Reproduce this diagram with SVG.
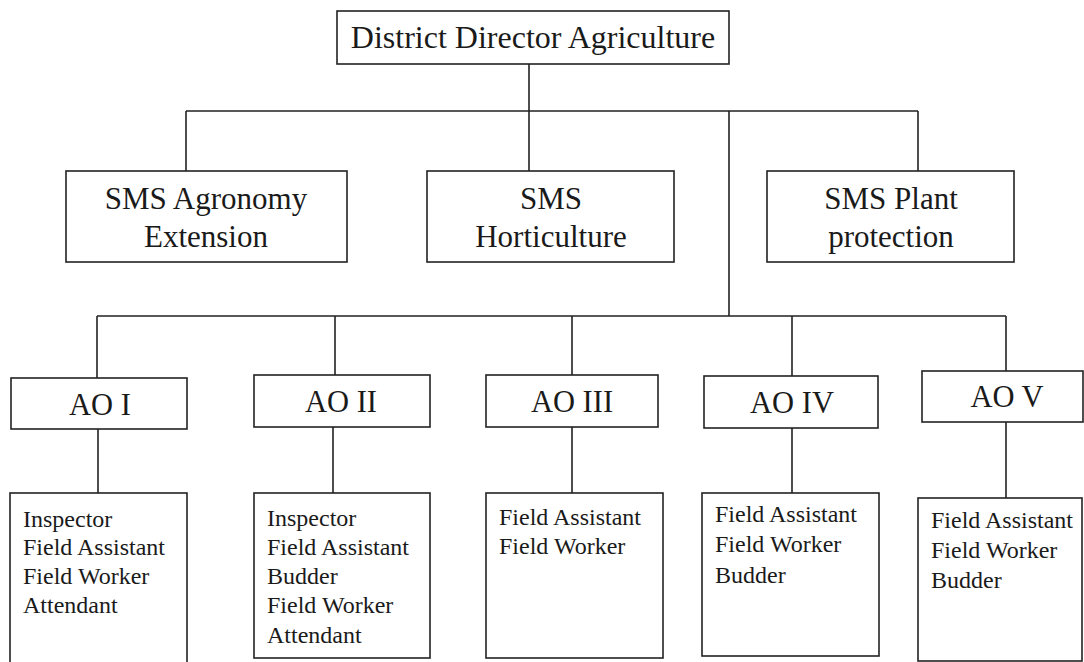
<svg xmlns="http://www.w3.org/2000/svg" width="1084" height="662" viewBox="0 0 1084 662">
<style>
.box{fill:#fff;stroke:#222;stroke-width:1.6}
.ln{stroke:#222;stroke-width:1.6;fill:none}
.t{font-family:"Liberation Serif","Times New Roman",serif;fill:#1a1a1a}
.big{font-size:32px;text-anchor:middle}
.mid{font-size:31px;text-anchor:middle}
.ao{font-size:30.5px;text-anchor:middle}
.lst{font-size:24px}
</style>
<rect width="1084" height="662" fill="#fff"/>
<g id="connectors" class="ln">
<path d="M529 64V111M186 111H918M186 111V171M529 111V171M918 111V171M729 111V316"/>
<path d="M97 316H1006M97 316V378M335 316V375M572 316V375M792 316V376M1006 316V371"/>
<path d="M98 429V493M333 427V493M572 427V493M792 428V493M1006 422V498"/>
</g>
<g id="dda"><rect class="box" x="337" y="11" width="392" height="53"/><text class="t big" x="533" y="48">District Director Agriculture</text></g>
<g id="sms1"><rect class="box" x="66" y="171" width="281" height="91"/><text class="t mid" x="206" y="209">SMS Agronomy</text><text class="t mid" x="206" y="247">Extension</text></g>
<g id="sms2"><rect class="box" x="427" y="171" width="247" height="91"/><text class="t mid" x="551" y="209">SMS</text><text class="t mid" x="551" y="247">Horticulture</text></g>
<g id="sms3"><rect class="box" x="767" y="171" width="247" height="91"/><text class="t mid" x="891" y="209">SMS Plant</text><text class="t mid" x="891" y="247">protection</text></g>
<g id="ao1"><rect class="box" x="11" y="378" width="176" height="51"/><text class="t ao" x="100" y="415">AO I</text></g>
<g id="ao2"><rect class="box" x="254" y="375" width="176" height="52"/><text class="t ao" x="341" y="412">AO II</text></g>
<g id="ao3"><rect class="box" x="486" y="375" width="172" height="52"/><text class="t ao" x="572" y="412">AO III</text></g>
<g id="ao4"><rect class="box" x="704" y="376" width="174" height="52"/><text class="t ao" x="792" y="413">AO IV</text></g>
<g id="ao5"><rect class="box" x="922" y="371" width="161" height="51"/><text class="t ao" x="1007" y="407">AO V</text></g>
<g id="staff1"><rect class="box" x="10" y="493" width="177" height="180"/>
<text class="t lst" x="23" y="527">Inspector</text><text class="t lst" x="23" y="555">Field Assistant</text><text class="t lst" x="23" y="584">Field Worker</text><text class="t lst" x="23" y="613">Attendant</text></g>
<g id="staff2"><rect class="box" x="254" y="493" width="176" height="165"/>
<text class="t lst" x="267" y="526">Inspector</text><text class="t lst" x="267" y="555">Field Assistant</text><text class="t lst" x="267" y="584">Budder</text><text class="t lst" x="267" y="613">Field Worker</text><text class="t lst" x="267" y="643">Attendant</text></g>
<g id="staff3"><rect class="box" x="486" y="493" width="177" height="165"/>
<text class="t lst" x="499" y="525">Field Assistant</text><text class="t lst" x="499" y="554">Field Worker</text></g>
<g id="staff4"><rect class="box" x="702" y="493" width="177" height="163"/>
<text class="t lst" x="715" y="522">Field Assistant</text><text class="t lst" x="715" y="552">Field Worker</text><text class="t lst" x="715" y="583">Budder</text></g>
<g id="staff5"><rect class="box" x="918" y="498" width="164" height="163"/>
<text class="t lst" x="931" y="528">Field Assistant</text><text class="t lst" x="931" y="558">Field Worker</text><text class="t lst" x="931" y="588">Budder</text></g>
</svg>
